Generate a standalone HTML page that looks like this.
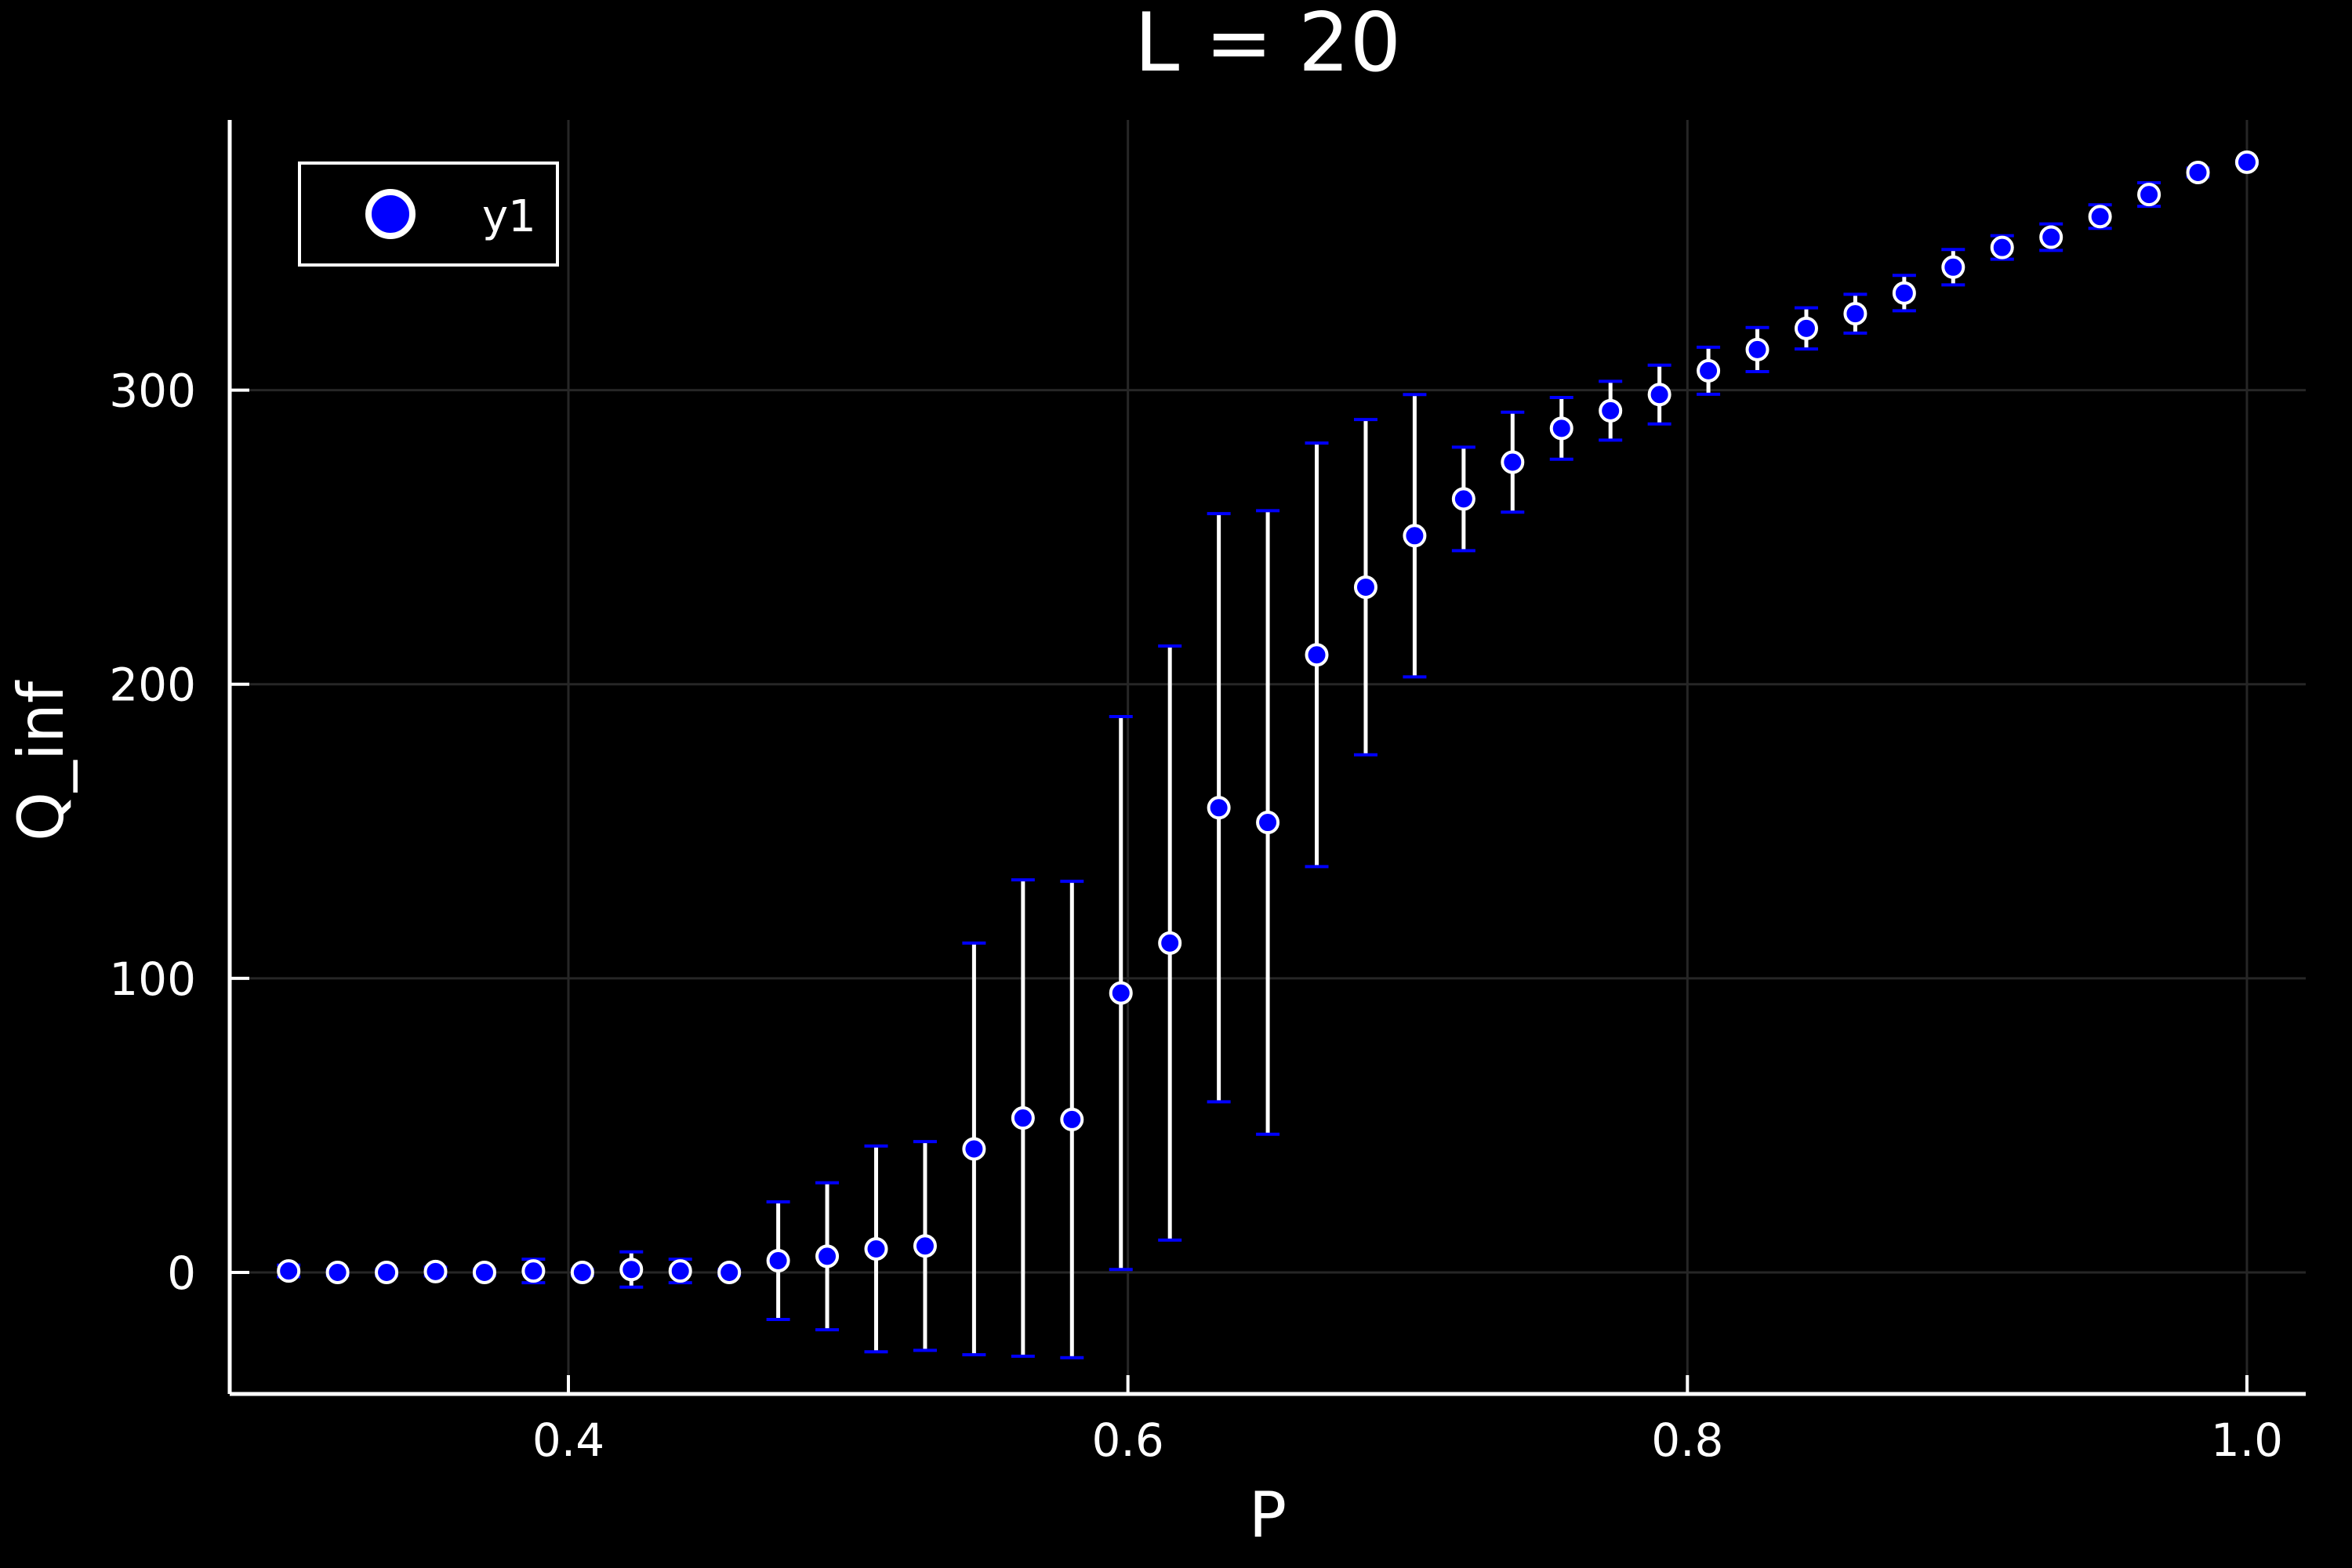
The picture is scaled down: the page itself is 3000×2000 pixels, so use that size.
<!DOCTYPE html>
<html><head><meta charset="utf-8"><style>
html,body{margin:0;padding:0;background:#000;}
svg{display:block;font-family:"DejaVu Sans","Liberation Sans",sans-serif;}
</style></head><body>
<svg id="chart" width="3000" height="2000" viewBox="0 0 3000 2000" xmlns="http://www.w3.org/2000/svg">
<rect width="3000" height="2000" fill="#000"/>
<g id="grid"></g>
<g id="axes"></g>
<g id="series"></g>
<text x="1617" y="90" font-size="103" fill="#fff" text-anchor="middle">L = 20</text>
<text x="1617" y="1960" font-size="80" fill="#fff" text-anchor="middle">P</text>
<text x="0" y="0" font-size="80" fill="#fff" text-anchor="middle" transform="translate(80,971) rotate(-90)">Q_inf</text>
<g>
<rect x="382" y="208" width="329" height="130" fill="#000" stroke="#fff" stroke-width="4"/>
<circle cx="498" cy="273" r="28" fill="#0000ff" stroke="#fff" stroke-width="8"/>
<text x="615" y="295" font-size="56" fill="#fff">y1</text>
</g>
</svg>
<script>
const xTicks = [0.4, 0.6, 0.8, 1.0];
const xTickLabels = ["0.4", "0.6", "0.8", "1.0"];
const yTicks = [0, 100, 200, 300];
const yTickLabels = ["0", "100", "200", "300"];
const pValues = [0.3,0.3175,0.335,0.3525,0.37,0.3875,0.405,0.4225,0.44,0.4575,0.475,0.4925,0.51,0.5275,0.545,0.5625,0.58,0.5975,0.615,0.6325,0.65,0.6675,0.685,0.7025,0.72,0.7375,0.755,0.7725,0.79,0.8075,0.825,0.8425,0.86,0.8775,0.895,0.9125,0.93,0.9475,0.965,0.9825,1.0];
const qValues = [0.5,0,0,0.3,0,0.5,0,1,0.5,0,4,5.5,8,9,42,52.5,52,95,112,158,153,210,233,250.5,263,275.5,287,293,298.5,306.6,313.8,321,326,333,341.8,348.5,352,359,366.5,374,377.5];
const qErrors = [2,1,1,1.5,1,4,1,6,4,1,20,25,35,35.5,70,81,81,94,101,100,106,72,57,48,17.6,17,10.5,10,10,8,7.5,7,6.6,6,6,4,4.5,4,4,1.5,0.5];

const NS = "http://www.w3.org/2000/svg";
const X0 = 725, XS = 3568.3, Y0 = 1623, YS = 3.7513;
const PL = 293, PR = 2941, PT = 153, PB = 1778;
function xScale(p){ return X0 + (p - 0.4) * XS; }
function yScale(v){ return Y0 - v * YS; }
function mk(tag, attrs, parent){
  const e = document.createElementNS(NS, tag);
  for (const k in attrs) e.setAttribute(k, attrs[k]);
  parent.appendChild(e);
  return e;
}
const grid = document.getElementById('grid');
const axes = document.getElementById('axes');
const series = document.getElementById('series');

xTicks.forEach((t, i) => {
  const x = xScale(t);
  const g = mk('line', {x1:x, x2:x, y1:PT, y2:PB, stroke:'#262626', 'stroke-width':3}, grid);
  
  
  const tk = mk('line', {x1:x, x2:x, y1:PB, y2:PB-24, stroke:'#fff', 'stroke-width':4}, axes);
  
  
  const lb = mk('text', {x:x, y:1857, 'font-size':58, fill:'#fff', 'text-anchor':'middle'}, axes);
  lb.textContent = xTickLabels[i];
  
  
});
yTicks.forEach((t, i) => {
  const y = yScale(t);
  const g = mk('line', {x1:PL, x2:PR, y1:y, y2:y, stroke:'#262626', 'stroke-width':3}, grid);
  
  
  const tk = mk('line', {x1:PL, x2:PL+25, y1:y, y2:y, stroke:'#fff', 'stroke-width':4}, axes);
  
  
  const lb = mk('text', {x:250, y:y+21, 'font-size':58, fill:'#fff', 'text-anchor':'end'}, axes);
  lb.textContent = yTickLabels[i];
  
  
});
const xa = mk('line', {x1:PL, x2:PR, y1:PB, y2:PB, stroke:'#fff', 'stroke-width':5}, axes);


const ya = mk('line', {x1:PL, x2:PL, y1:PT, y2:PB, stroke:'#fff', 'stroke-width':5}, axes);



pValues.forEach((p, i) => {
  const x = xScale(p), yt = yScale(qValues[i] + qErrors[i]), yb = yScale(qValues[i] - qErrors[i]);
  const eb = mk('line', {x1:x, x2:x, y1:yt, y2:yb, stroke:'#fff', 'stroke-width':5}, series);
  
  
  [yt, yb].forEach(yy => {
    const c = mk('line', {x1:x-15, x2:x+15, y1:yy, y2:yy, stroke:'#0000ff', 'stroke-width':4}, series);
    
    
  });
});
pValues.forEach((p, i) => {
  const pt = mk('circle', {cx:xScale(p), cy:yScale(qValues[i]), r:13, fill:'#0000ff', stroke:'#fff', 'stroke-width':4}, series);
  
  
});
</script>
</body></html>
